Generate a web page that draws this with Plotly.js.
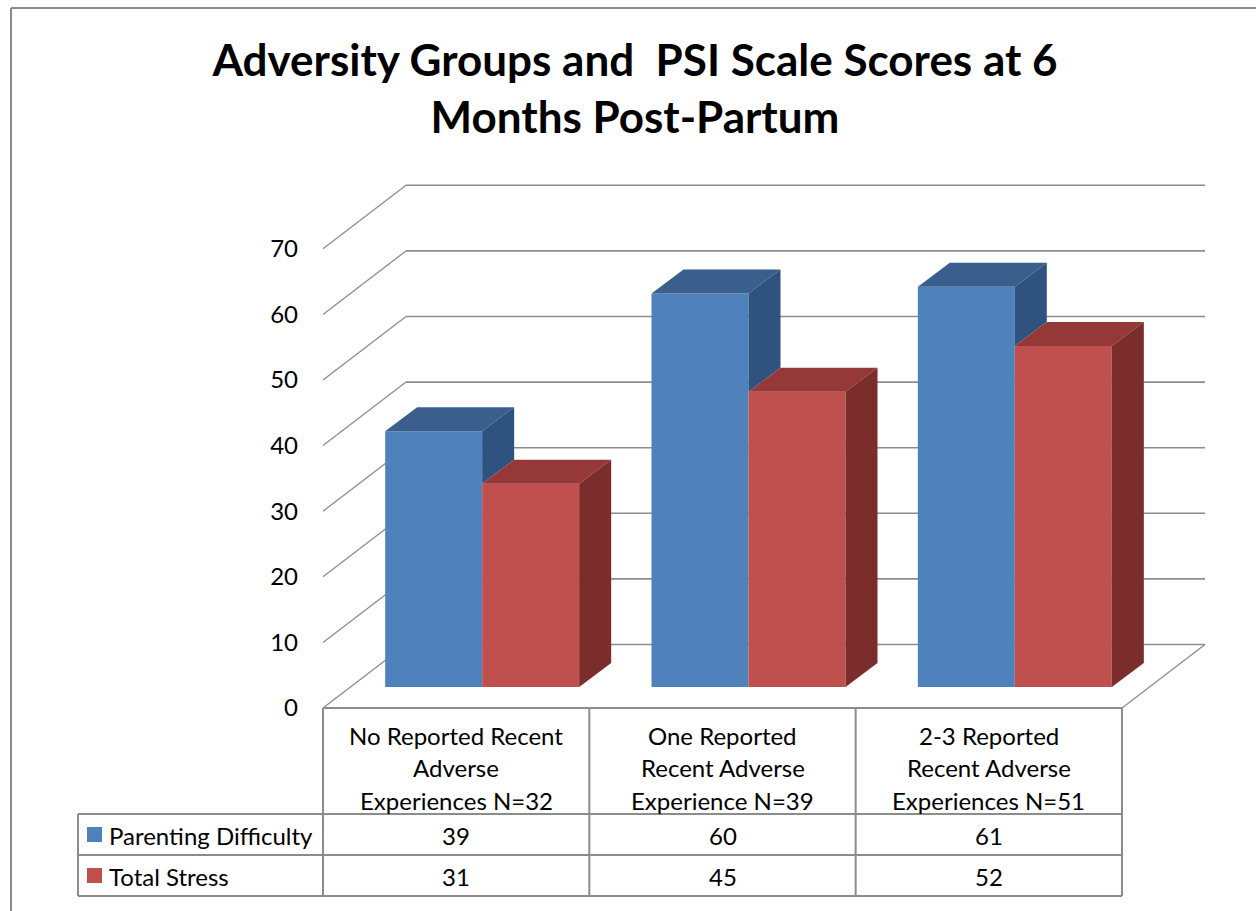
<!DOCTYPE html>
<html>
<head>
<meta charset="utf-8">
<script src="https://cdn.plot.ly/plotly-3.0.1.min.js"></script>
<style>html,body{margin:0;padding:0;background:#fff;}#chart{width:1256px;height:911px;}</style>
</head>
<body>
<div id="chart"></div>
<script>
// ---- data ----
const categories = [
  "No Reported Recent<br>Adverse<br>Experiences N=32",
  "One Reported<br>Recent Adverse<br>Experience N=39",
  "2-3 Reported<br>Recent Adverse<br>Experiences N=51"
];
const seriesNames = ["Parenting Difficulty", "Total Stress"];
const parentingDifficulty = [39, 60, 61];
const totalStress = [31, 45, 52];
const yTicks = [0, 10, 20, 30, 40, 50, 60, 70];
const chartTitle = "Adversity Groups and \u00a0PSI Scale Scores at 6<br>Months Post-Partum";

// ---- styles / geometry ----
const W = 1256, H = 911;
const FONT = "Lato, 'Open Sans', sans-serif";
const colFront = ["#4F81BD", "#C0504D"];
const colTop = ["#3A5F8C", "#943937"];
const colSide = ["#30527E", "#7A2D2B"];
const gridCol = "#8C8C8C", tableCol = "#8C8C8C";
const catPx = 266.33, leftPx = 323;           // category width and left edge (px)
const s = 6.56, zeroPx = 708;                 // px per value unit, front zero line
const xPx = px => -0.5 + (px - leftPx) / catPx;
const py = px => 1 - px / H;
const wallDX = 83 / catPx, wallDY = 63.5 / s;
const frontDX = 26 / catPx, frontDY = 21 / s;
const depthDX = 32 / catPx, depthDY = 24 / s;
const barW = 97 / catPx;
const nCat = categories.length;

const series = [parentingDifficulty, totalStress];
const traces = [];
// front faces as bars
series.forEach((vals, si) => {
  traces.push({
    type: "bar", name: seriesNames[si],
    x: vals.map((v, i) => i + frontDX + (si - 0.5) * barW),
    y: vals, base: vals.map(() => frontDY), width: vals.map(() => barW),
    marker: {color: colFront[si], line: {width: 0}},
    hoverinfo: "skip", showlegend: false
  });
});
// top and side faces
series.forEach((vals, si) => {
  const topX = [], topY = [], sideX = [], sideY = [];
  vals.forEach((v, i) => {
    const xl = i + frontDX + (si - 1) * barW, xr = xl + barW;
    const t = v + frontDY;
    topX.push(xl, xr, xr + depthDX, xl + depthDX, xl, null);
    topY.push(t, t, t + depthDY, t + depthDY, t, null);
    let b = frontDY;
    if (si < series.length - 1) b = Math.max(frontDY, series[si + 1][i] + frontDY);
    if (b < t) {
      sideX.push(xr, xr, xr + depthDX, xr + depthDX, xr, null);
      sideY.push(b, t, t + depthDY, b + depthDY, b, null);
    }
  });
  traces.push({type: "scatter", mode: "lines", x: topX, y: topY, fill: "toself",
    fillcolor: colTop[si], line: {width: 0, color: colTop[si]}, hoverinfo: "skip", showlegend: false});
  traces.push({type: "scatter", mode: "lines", x: sideX, y: sideY, fill: "toself",
    fillcolor: colSide[si], line: {width: 0, color: colSide[si]}, hoverinfo: "skip", showlegend: false});
});

const shapes = [];
const L = -0.5, R = nCat - 0.5;
// walls / gridlines
yTicks.forEach(v => {
  shapes.push({type: "line", layer: "below", xref: "x", yref: "y", x0: L + wallDX, x1: R + wallDX,
    y0: v + wallDY, y1: v + wallDY, line: {color: gridCol, width: 1.6}});
  shapes.push({type: "line", layer: "below", xref: "x", yref: "y", x0: L, x1: L + wallDX,
    y0: v, y1: v + wallDY, line: {color: gridCol, width: 1.3}});
});
shapes.push({type: "line", layer: "below", xref: "x", yref: "y", x0: R, x1: R + wallDX,
  y0: 0, y1: wallDY, line: {color: gridCol, width: 1.3}});

// data table
const rowTop = 708, row1 = 814, row2 = 855, row3 = 896, legLeft = 78;
const hl = (x0, x1, xref, ypx) => shapes.push({type: "line", xref: xref, yref: "paper", x0: x0, x1: x1,
  y0: py(ypx), y1: py(ypx), line: {color: tableCol, width: 2}});
hl(L, R, "x", rowTop);
[row1, row2, row3].forEach(r => {
  hl(L, R, "x", r);
  shapes.push({type: "line", xref: "paper", yref: "paper", x0: legLeft / W, x1: leftPx / W,
    y0: py(r), y1: py(r), line: {color: tableCol, width: 2}});
});
for (let k = 0; k <= nCat; k++) {
  shapes.push({type: "line", xref: "x", yref: "paper", x0: L + k, x1: L + k, y0: py(rowTop), y1: py(row3),
    line: {color: tableCol, width: 2}});
}
shapes.push({type: "line", xref: "paper", yref: "paper", x0: legLeft / W, x1: legLeft / W, y0: py(row1), y1: py(row3),
  line: {color: tableCol, width: 2}});
// legend keys
[[827, 842], [868, 883]].forEach((yy, si) => {
  shapes.push({type: "rect", xref: "paper", yref: "paper", x0: 87 / W, x1: 102 / W, y0: py(yy[1]), y1: py(yy[0]),
    fillcolor: colFront[si], line: {width: 0}});
});
// outer border (top and left)
shapes.push({type: "line", xref: "paper", yref: "paper", x0: 11 / W, x1: 1, y0: py(8), y1: py(8), line: {color: "#8A8A8A", width: 2}});
shapes.push({type: "line", xref: "paper", yref: "paper", x0: 11 / W, x1: 11 / W, y0: py(8), y1: 0, line: {color: "#8A8A8A", width: 2}});

const annotations = [];
const tf = {family: FONT, size: 24, color: "#000"};
const headerLinesPx = [735, 767, 800];
categories.forEach((c, i) => {
  c.split("<br>").forEach((ln, j) => {
    annotations.push({xref: "x", yref: "paper", x: i, y: py(headerLinesPx[j]), text: ln, showarrow: false,
      xanchor: "center", yanchor: "middle", font: tf});
  });
  [parentingDifficulty[i], totalStress[i]].forEach((v, si) => {
    annotations.push({xref: "x", yref: "paper", x: i, y: py([835, 876][si]), text: String(v), showarrow: false,
      xanchor: "center", yanchor: "middle", font: tf});
  });
});
seriesNames.forEach((n, si) => {
  annotations.push({xref: "paper", yref: "paper", x: 107 / W, y: py([835, 876][si]), text: n, showarrow: false,
    xanchor: "left", yanchor: "middle", font: tf});
});

const layout = {
  width: W, height: H, margin: {l: 0, r: 0, t: 0, b: 0, pad: 0},
  paper_bgcolor: "#fff", plot_bgcolor: "rgba(0,0,0,0)",
  barmode: "overlay", showlegend: false,
  title: {text: "<b>" + chartTitle + "</b>", x: 635 / W, xanchor: "center", y: 1 - 76 / H, yanchor: "top",
    font: {family: FONT, size: 44, color: "#000"}},
  xaxis: {range: [xPx(0), xPx(W)], domain: [0, 1], showgrid: false, zeroline: false, showline: false,
    showticklabels: false, ticks: "", fixedrange: true},
  yaxis: {range: [-(H - zeroPx) / s, zeroPx / s], domain: [0, 1], anchor: "free", position: leftPx / W,
    tickvals: yTicks, ticktext: yTicks.map(String), showgrid: false, zeroline: false, showline: false,
    ticks: "", ticklabelstandoff: 25, tickfont: tf, fixedrange: true},
  shapes: shapes, annotations: annotations
};
Plotly.newPlot("chart", traces, layout, {displayModeBar: false, staticPlot: true});
</script>
</body>
</html>
